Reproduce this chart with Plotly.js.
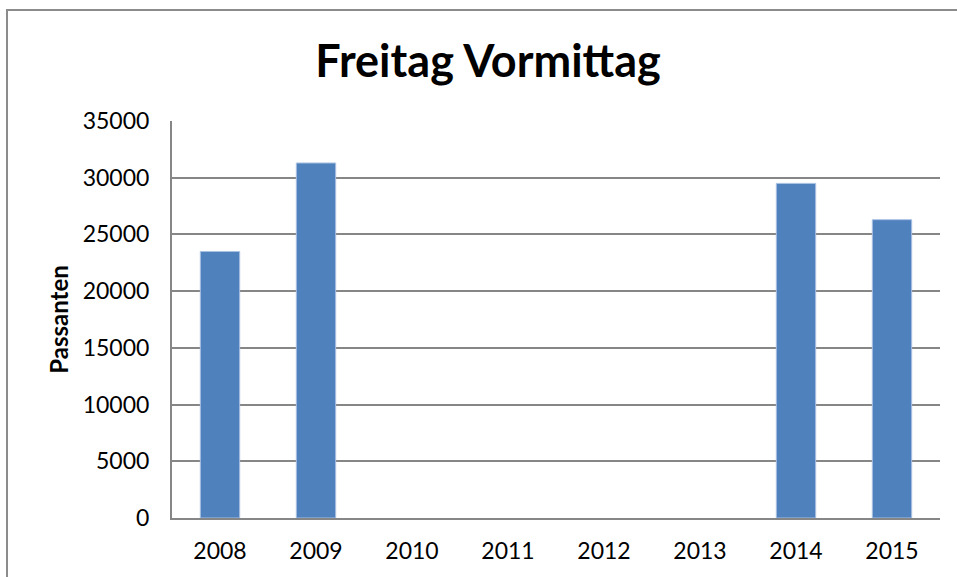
<!DOCTYPE html>
<html>
<head>
<meta charset="utf-8">
<script src="https://cdn.plot.ly/plotly-3.0.1.min.js"></script>
<style>
  html, body { margin: 0; padding: 0; background: #fff; overflow: hidden; }
  #wrap { position: relative; width: 957px; height: 577px; overflow: hidden; }
  #chart { width: 957px; height: 577px; }
  #frame { position: absolute; left: 6px; top: 9px; width: 1000px; height: 600px;
           border: 2px solid #8c8c8c; pointer-events: none; box-sizing: border-box; }
</style>
</head>
<body>
<div id="wrap">
  <div id="chart"></div>
  <div id="frame"></div>
</div>
<script>
const years = ['2008', '2009', '2010', '2011', '2012', '2013', '2014', '2015'];
const passanten = [23500, 31300, null, null, null, null, 29500, 26300];
const yTicks = [0, 5000, 10000, 15000, 20000, 25000, 30000, 35000];
const chartTitle = 'Freitag Vormittag';
const yTitle = 'Passanten';

const fontFam = 'Lato, "Open Sans", sans-serif';

Plotly.newPlot('chart', [{
  type: 'bar',
  x: years,
  y: passanten,
  marker: { color: '#4f81bd', line: { color: '#a9c1e2', width: 1 } },
  hoverinfo: 'x+y'
}], {
  width: 957,
  height: 577,
  margin: { l: 172, r: 17, t: 121, b: 59 },
  paper_bgcolor: '#ffffff',
  plot_bgcolor: '#ffffff',
  showlegend: false,
  bargap: 0.59,
  title: {
    text: '<b>' + chartTitle + '</b>',
    font: { family: fontFam, size: 45, color: '#000' },
    x: 0.51, xanchor: 'center',
    y: 0.893, yanchor: 'middle'
  },
  xaxis: {
    type: 'category',
    categoryorder: 'array',
    categoryarray: years,
    showline: true, linecolor: '#868686', linewidth: 2,
    showgrid: false, ticks: '',
    tickfont: { family: fontFam, size: 23, color: '#000' },
    ticklabelstandoff: 11,
    fixedrange: true
  },
  yaxis: {
    range: [0, 35000],
    tickvals: yTicks,
    ticktext: yTicks.map(String),
    showline: true, linecolor: '#868686', linewidth: 2,
    showgrid: true, gridcolor: '#868686', gridwidth: 2,
    zeroline: false,
    ticks: '',
    tickfont: { family: fontFam, size: 23, color: '#000' },
    ticklabelstandoff: 16,
    title: {
      text: '<b>' + yTitle + '</b>',
      font: { family: fontFam, size: 24, color: '#000' },
      standoff: 7
    },
    fixedrange: true
  }
}, { displayModeBar: false, staticPlot: true });
</script>
</body>
</html>
